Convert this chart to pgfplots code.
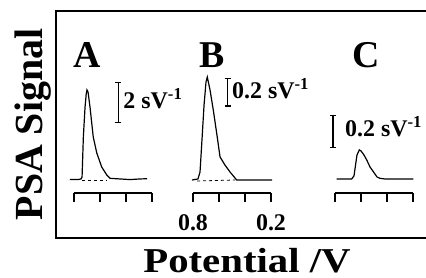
\documentclass[border=0pt]{standalone}
\usepackage{graphicx}
\usepackage{pgfplots}
\pgfplotsset{compat=1.18}
\usetikzlibrary{arrows.meta}
\usepackage{fontspec}
\setmainfont{Liberation Serif}
\newcommand{\bigfnt}{\fontsize{38}{40}\selectfont\bfseries}
\newcommand{\lblfnt}{\fontsize{40}{42}\selectfont\bfseries}
\newcommand{\xlblfnt}{\fontsize{35}{37}\selectfont\bfseries}
\newcommand{\midfnt}{\fontsize{24}{26}\selectfont\bfseries}
\tikzset{sbar/.style={line width=1.4bp, {Bar[width=6bp]}-{Bar[width=6bp]}}}
\pgfplotsset{
  panel/.style={scale only axis, width=78bp, xmin=0.2, xmax=0.8, x dir=reverse,
    axis x line=bottom, axis y line=none, xtick={0.2,0.4,0.6,0.8}, xticklabels={},
    ytick=\empty, tick align=outside, major tick length=9bp, clip=false,
    every tick/.style={line width=1.4bp, black},
    x axis line style={line width=1.4bp, -},
    every outer x axis line/.append style={-},
    anchor=south west,
    ticklabel style={font=\fontsize{24}{26}\selectfont\bfseries, yshift=-9bp}},
  curve/.style={line width=1.2bp, black, no marks},
}
\begin{document}
\begin{tikzpicture}
\useasboundingbox (0,0) rectangle (426bp,278bp);
% outer frame
\begin{axis}[at={(56bp,40bp)}, anchor=south west, scale only axis,
  width=376bp, height=227bp, xmin=0, xmax=1, ymin=0, ymax=1, ticks=none,
  axis line style={line width=2bp},
  xlabel={\scalebox{1.17}[1]{Potential /V}}, ylabel={PSA Signal},
  label style={inner sep=0pt},
  x label style={font=\xlblfnt, at={(axis description cs:0.5,0)}, anchor=base, yshift=-34bp, xshift=3bp},
  y label style={font=\lblfnt, at={(axis description cs:-0.011,0.5)}, anchor=south}]
\end{axis}
% Panel A
\begin{axis}[panel, at={(74bp,85bp)}, height=113bp, ymin=-0.619, ymax=4.762]
\addplot[curve] coordinates {
(0.831,0.02) (0.769,0.02) (0.746,0.05) (0.738,0.14) (0.728,2.05) (0.715,3.48)
(0.706,4.10) (0.700,4.29) (0.692,4.19) (0.677,3.48) (0.652,2.05) (0.625,1.29)
(0.587,0.62) (0.548,0.24) (0.523,0.08) (0.446,0.05) (0.369,0.02) (0.292,0.05) (0.238,0.06)};
\addplot[line width=0.8bp, dashed, no marks] coordinates {(0.738,-0.03) (0.546,-0.03)};
\draw[sbar] (axis cs:0.459,2.71) -- (axis cs:0.459,4.68);
\node[anchor=west, font=\midfnt, inner sep=0pt] at (axis cs:0.421,3.86) {2 sV\textsuperscript{-1}};
\node[font=\bigfnt, inner sep=0pt] at (axis cs:0.7,5.95) {A};
\end{axis}
% Panel B
\begin{axis}[panel, at={(193bp,85bp)}, height=123bp, ymin=-0.0897, ymax=0.7586,
  xticklabels={0.2,,,0.8}]
\addplot[curve] coordinates {
(0.808,0) (0.762,0.007) (0.746,0.055) (0.731,0.276) (0.715,0.517) (0.700,0.676)
(0.690,0.710) (0.669,0.621) (0.644,0.483) (0.618,0.324) (0.592,0.159) (0.554,0.103)
(0.515,0.055) (0.464,0) (0.400,0) (0.323,0) (0.246,0) (0.192,0)};
\addplot[line width=0.8bp, dashed, no marks] coordinates {(0.769,-0.007) (0.477,0)};
\draw[sbar] (axis cs:0.533,0.506) -- (axis cs:0.533,0.703);
\node[anchor=west, font=\midfnt, inner sep=0pt] at (axis cs:0.50,0.628) {0.2 sV\textsuperscript{-1}};
\node[font=\bigfnt, inner sep=0pt] at (axis cs:0.654,0.862) {B};
\end{axis}
% Panel C
\begin{axis}[panel, at={(335bp,85bp)}, height=93bp, ymin=-0.0824, ymax=0.4647]
\addplot[curve] coordinates {
(0.787,0) (0.672,0) (0.654,0.018) (0.642,0.082) (0.631,0.141) (0.613,0.171)
(0.600,0.165) (0.577,0.141) (0.556,0.112) (0.531,0.071) (0.505,0.043)
(0.477,0.012) (0.454,0.004) (0.415,0) (0.198,0)};
\draw[sbar] (axis cs:0.815,0.182) -- (axis cs:0.815,0.376);
\node[anchor=west, font=\midfnt, inner sep=0pt] at (axis cs:0.723,0.306) {0.2 sV\textsuperscript{-1}};
\node[font=\bigfnt, inner sep=0pt] at (axis cs:0.562,0.729) {C};
\end{axis}
\end{tikzpicture}
\end{document}
